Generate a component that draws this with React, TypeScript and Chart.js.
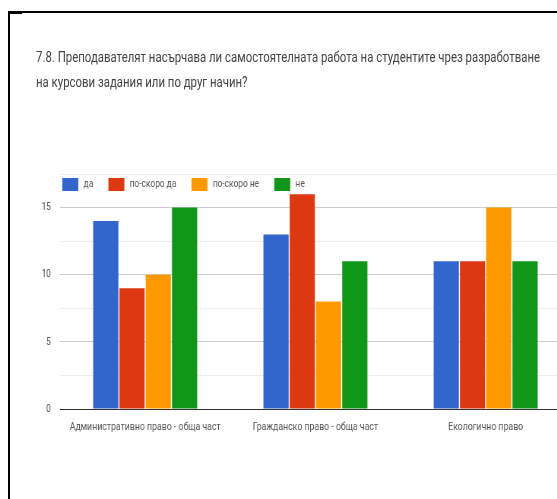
import React, { useEffect, useRef } from 'react';
import { Chart, registerables } from 'chart.js';

Chart.register(...registerables);

const titleLines = [
  '7.8. Преподавателят насърчава ли самостоятелната работа на студентите чрез разработване',
  'на курсови задания или по друг начин?',
];
const categories = [
  'Административно право - обща част',
  'Гражданско право - обща част',
  'Екологично право',
];
const seriesNames = ['да', 'по-скоро да', 'по-скоро не', 'не'];
const seriesDa = [14, 13, 11];
const seriesPoSkoroDa = [9, 16, 11];
const seriesPoSkoroNe = [10, 8, 15];
const seriesNe = [15, 11, 11];
const seriesValues = [seriesDa, seriesPoSkoroDa, seriesPoSkoroNe, seriesNe];
const seriesColors = ['#3366cc', '#dc3912', '#ff9900', '#109618'];
const yMin = 0;
const yMax = 17.5;
const yStep = 2.5;
const yLabelStep = 5;

const SQUEEZE = 0.76;
const INNER_W = 790;
const FONT = 'Roboto';

const inlineLegend = {
  id: 'inlineLegend',
  afterDraw(chart: any) {
    const { ctx, chartArea } = chart;
    ctx.save();
    ctx.font = `11px ${FONT}`;
    ctx.textBaseline = 'middle';
    ctx.textAlign = 'left';
    let x = chartArea.left + 3;
    const top = chartArea.top + 4;
    const bw = 21;
    const bh = 13;
    chart.data.datasets.forEach((ds: any) => {
      ctx.fillStyle = ds.backgroundColor;
      ctx.fillRect(x, top, bw, bh);
      x += bw + 7;
      ctx.fillStyle = '#555555';
      ctx.fillText(ds.label, x, top + bh / 2);
      x += ctx.measureText(ds.label).width + 20;
    });
    ctx.restore();
  },
};

export default function App() {
  const canvasRef = useRef<HTMLCanvasElement | null>(null);

  useEffect(() => {
    if (!canvasRef.current) return;
    const chart = new Chart(canvasRef.current, {
      type: 'bar',
      data: {
        labels: categories,
        datasets: seriesNames.map((name, i) => ({
          label: name,
          data: seriesValues[i],
          backgroundColor: seriesColors[i],
          borderWidth: 0,
          categoryPercentage: 0.617,
          barPercentage: 0.96,
        })),
      },
      options: {
        responsive: true,
        maintainAspectRatio: false,
        animation: false,
        layout: { padding: { top: 74, right: 39, left: 0, bottom: 0 } },
        plugins: {
          legend: { display: false },
          tooltip: { enabled: false },
          title: { display: false },
        },
        scales: {
          x: {
            grid: { display: false, drawTicks: false },
            border: { color: '#333333', width: 1 },
            ticks: {
              font: { family: FONT, size: 11.5 },
              color: '#555555',
              padding: 11,
              maxRotation: 0,
              autoSkip: false,
            },
            afterFit: (s: any) => {
              s.height = 90;
            },
          },
          y: {
            min: yMin,
            max: yMax,
            grid: {
              drawTicks: false,
              color: (c: any) => {
                const v = c.tick ? c.tick.value : 1;
                if (v === 0) return '#333333';
                return v % yLabelStep === 0 ? '#cccccc' : '#ededed';
              },
            },
            border: { display: false },
            ticks: {
              stepSize: yStep,
              padding: 12,
              font: { family: FONT, size: 11 },
              color: '#555555',
              callback: (v: any) => (Number(v) % yLabelStep === 0 ? String(v) : ''),
            },
            afterFit: (s: any) => {
              s.width = 79;
            },
          },
        },
      },
      plugins: [inlineLegend],
    });
    return () => chart.destroy();
  }, []);

  return (
    <div
      style={{
        position: 'fixed',
        left: 0,
        top: 0,
        width: 557,
        height: 499,
        overflow: 'hidden',
        background: '#ffffff',
      }}
    >
      <div
        style={{
          position: 'absolute',
          left: 0,
          top: 0,
          width: INNER_W,
          height: 499,
          transform: `scaleX(${SQUEEZE})`,
          transformOrigin: '0 0',
        }}
      >
        <div
          style={{
            position: 'absolute',
            left: 36 / SQUEEZE,
            top: 45,
            fontFamily: FONT,
            fontSize: 15,
            lineHeight: '25px',
            color: '#444444',
            whiteSpace: 'nowrap',
          }}
        >
          {titleLines.map((t, i) => (
            <div key={i}>{t}</div>
          ))}
        </div>
        <div
          style={{
            position: 'absolute',
            left: 0,
            top: 100,
            width: INNER_W,
            height: 399,
          }}
        >
          <canvas ref={canvasRef} />
        </div>
      </div>
      <div
        style={{
          position: 'absolute',
          left: 8,
          top: 11,
          right: 0,
          bottom: 0,
          borderLeft: '2px solid #000',
          borderTop: '2px solid #000',
        }}
      />
      <div
        style={{
          position: 'absolute',
          left: 8,
          top: 11,
          width: 14,
          height: 3,
          background: '#000',
        }}
      />
    </div>
  );
}
